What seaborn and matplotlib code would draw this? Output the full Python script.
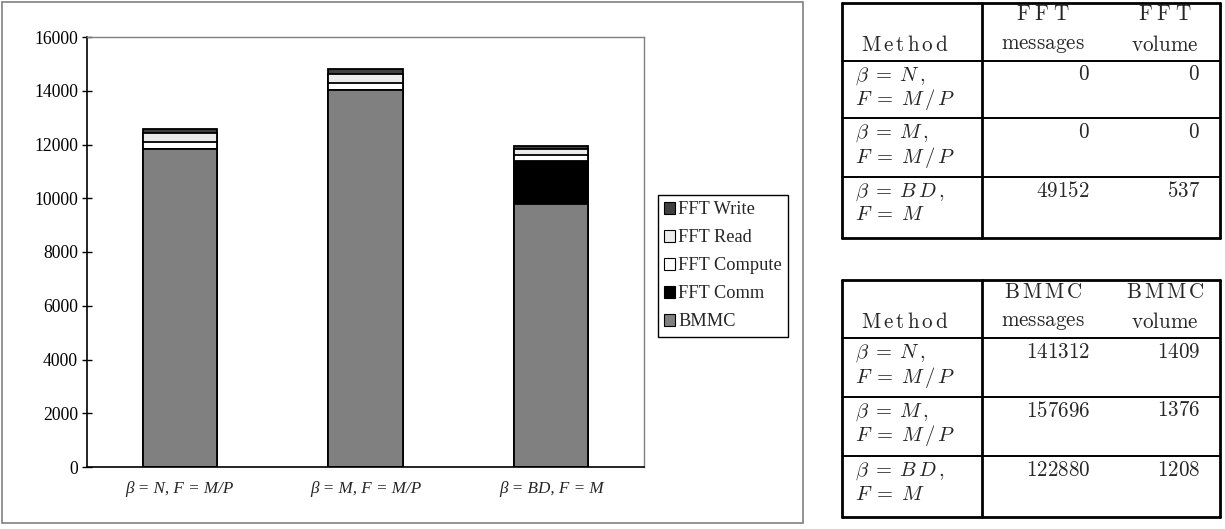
import numpy as np
import pandas as pd
import matplotlib
matplotlib.use("Agg")
import matplotlib.pyplot as plt
import seaborn as sns
from matplotlib.lines import Line2D
from matplotlib.patches import Rectangle, Patch

# ---- chart data -------------------------------------------------------------
methods = ["β = N, F = M/P", "β = M, F = M/P", "β = BD, F = M"]
bmmc = [11820, 14020, 9800]
fft_comm = [0, 0, 1600]
fft_compute = [260, 280, 220]
fft_read = [330, 330, 200]
fft_write = [150, 170, 130]

layer_names = ["BMMC", "FFT Comm", "FFT Compute", "FFT Read", "FFT Write"]
layer_colors = ["#808080", "#000000", "#ffffff", "#ececec", "#404040"]

y_ticks = [0, 2000, 4000, 6000, 8000, 10000, 12000, 14000, 16000]

# ---- table data -------------------------------------------------------------
table_methods = [
    (r"$\beta\;=\;N\,,$", r"$F\;=\;M\,/\,P$"),
    (r"$\beta\;=\;M\,,$", r"$F\;=\;M\,/\,P$"),
    (r"$\beta\;=\;B\,D\,,$", r"$F\;=\;M$"),
]
fft_messages = [0, 0, 49152]
fft_volume = [0, 0, 537]
bmmc_messages = [141312, 157696, 122880]
bmmc_volume = [1409, 1376, 1208]

# ---- figure -----------------------------------------------------------------
W, H = 1225, 529
sns.set_style("white")
plt.rcParams["font.family"] = ["Liberation Serif", "DejaVu Serif"]
plt.rcParams["mathtext.fontset"] = "cm"

fig = plt.figure(figsize=(W / 100, H / 100), dpi=100)


def fx(x):
    return x / W


def fy(y):
    return 1 - y / H


# outer frame around the chart
fig.add_artist(Rectangle((fx(2), fy(523)), fx(803) - fx(2), fy(2) - fy(523),
                         transform=fig.transFigure, fill=False,
                         edgecolor="#808080", lw=1.2))

ax = fig.add_axes([fx(87), fy(467), fx(644) - fx(87), fy(37) - fy(467)])

layers = np.array([bmmc, fft_comm, fft_compute, fft_read, fft_write], dtype=float)
cum = np.cumsum(layers, axis=0)

# stacked bars: draw cumulative totals from the top layer down
for i in reversed(range(len(layer_names))):
    sns.barplot(x=methods, y=cum[i], color=layer_colors[i], saturation=1,
                width=0.4, edgecolor="black", linewidth=1.3, ax=ax)

ax.set_xlim(-0.5, 2.5)
ax.set_ylim(0, 16000)
ax.set_yticks(y_ticks)
ax.set_yticklabels([str(t) for t in y_ticks])
ax.set_xlabel("")
ax.set_ylabel("")
ax.tick_params(axis="y", direction="inout", length=7, width=1, labelsize=12.7,
               pad=3, left=True, colors="black")
ax.tick_params(axis="x", length=0, labelsize=12.3, pad=10)
for lab in ax.get_xticklabels():
    lab.set_fontstyle("italic")
for side in ("left", "bottom"):
    ax.spines[side].set_color("black")
    ax.spines[side].set_linewidth(1.2)
for side in ("top", "right"):
    ax.spines[side].set_visible(True)
    ax.spines[side].set_color("#808080")
    ax.spines[side].set_linewidth(1.0)

handles = [Patch(facecolor=layer_colors[i], edgecolor="black", lw=0.8,
                 label=layer_names[i]) for i in reversed(range(len(layer_names)))]
leg = fig.legend(handles=handles, loc="upper left",
                 bbox_to_anchor=(fx(658), fy(195)), frameon=True, fancybox=False,
                 edgecolor="black", framealpha=1,
                 prop=dict(family="Liberation Serif", size=13.2),
                 handlelength=0.6, handleheight=0.6, handletextpad=0.15,
                 labelspacing=0.6, borderpad=0.35, borderaxespad=0)
leg.get_frame().set_linewidth(1.0)


# ---- tables -----------------------------------------------------------------
def hline(x0, x1, y, lw):
    fig.add_artist(Line2D([fx(x0), fx(x1)], [fy(y), fy(y)],
                          transform=fig.transFigure, color="black", lw=lw))


def vline(x, y0, y1, lw):
    fig.add_artist(Line2D([fx(x), fx(x)], [fy(y0), fy(y1)],
                          transform=fig.transFigure, color="black", lw=lw))


def txt(x, y, s, ha, size=15.2):
    fig.text(fx(x), fy(y), s, ha=ha, va="center", fontsize=size,
             math_fontfamily="cm")


def num(n):
    return r"$\mathrm{" + str(n) + "}$"


def draw_table(top, bottom, row_lines, title, messages, volume):
    left, right, divider = 842, 1220, 982
    # frame
    hline(left, right, top, 2.0)
    hline(left, right, bottom, 2.0)
    vline(left, top, bottom, 2.0)
    vline(right, top, bottom, 2.0)
    vline(divider, top, bottom, 2.0)
    for y in row_lines:
        hline(left, right, y, 1.4)
    # header
    txt(1043, top + 13, r"$\mathrm{" + title + "}$", "center")
    txt(1165, top + 13, r"$\mathrm{" + title + "}$", "center")
    txt(905, top + 43, r"$\mathrm{M\,e\,t\,h\,o\,d}$", "center")
    txt(1043, top + 43, r"$\mathrm{messages}$", "center")
    txt(1165, top + 43, r"$\mathrm{volume}$", "center")
    # body rows
    for k, cell_top in enumerate(row_lines):
        l1, l2 = table_methods[k]
        txt(855, cell_top + 15, l1, "left", 14.8)
        txt(855, cell_top + 39, l2, "left", 14.8)
        txt(1090, cell_top + 15, num(messages[k]), "right")
        txt(1200, cell_top + 15, num(volume[k]), "right")


draw_table(3, 238, [61, 118, 177], r"F\;F\;T", fft_messages, fft_volume)
draw_table(280, 517, [338, 397, 456], r"B\,M\,M\,C", bmmc_messages, bmmc_volume)

fig.savefig("out.png", dpi=100)
